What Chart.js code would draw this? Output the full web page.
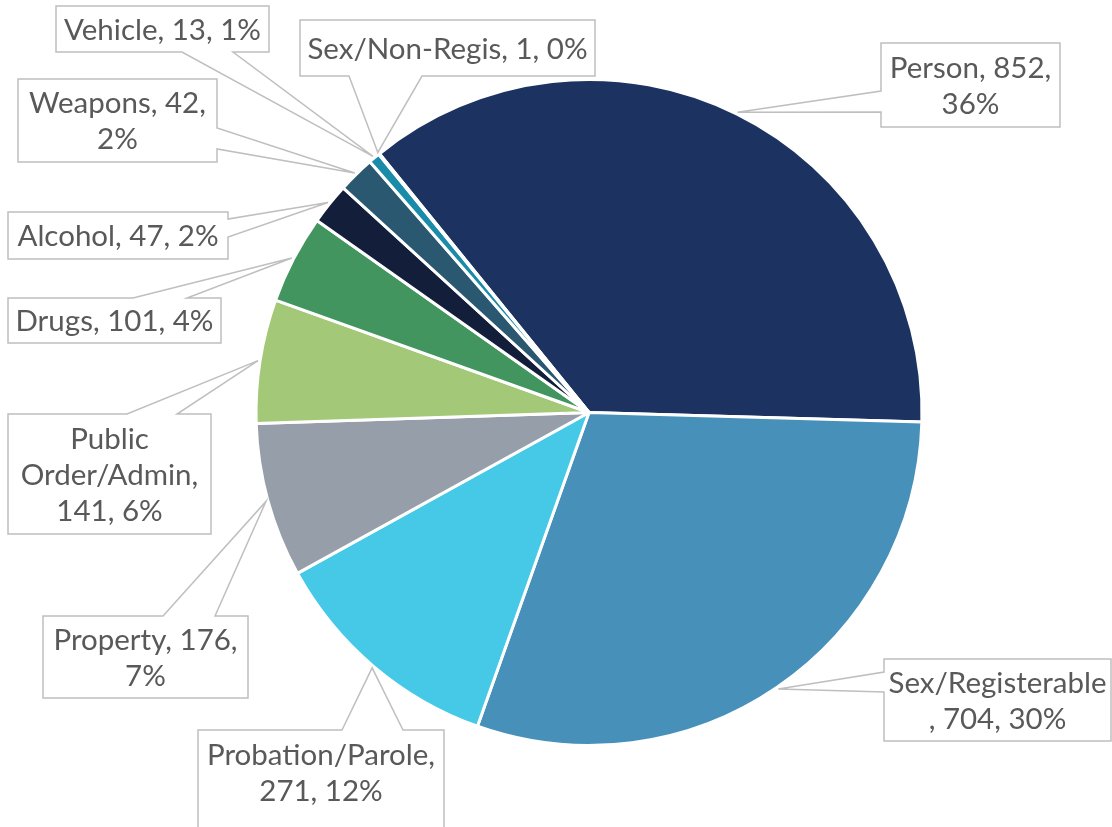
<!DOCTYPE html>
<html>
<head>
<meta charset="utf-8">
<script src="https://cdn.jsdelivr.net/npm/chart.js@4.4.1/dist/chart.umd.min.js"></script>
<style>
  html, body { margin: 0; padding: 0; background: #fff; }
  #wrap { width: 1112px; height: 827px; }
</style>
</head>
<body>
<div id="wrap"><canvas id="pieChart" width="1112" height="827"></canvas></div>
<script>
const categories = ['Person', 'Sex/Registerable', 'Probation/Parole', 'Property',
  'Public Order/Admin', 'Drugs', 'Alcohol', 'Weapons', 'Vehicle', 'Sex/Non-Regis'];
const counts = [852, 704, 271, 176, 141, 101, 47, 42, 13, 1];
const sliceColors = ['#1C3261', '#4690BA', '#45C9E6', '#969FA9', '#A3C878',
  '#42955F', '#131E3A', '#2A5870', '#1A8BA8', '#1A8BA8'];

// callout boxes: x, y, w, h, side of the wedge, wedge base (two coords along that side)
const callouts = [
  { x: 881, y: 43, w: 179, h: 84, side: 'left', a: 91, b: 112 },
  { x: 884, y: 659, w: 227, h: 82, side: 'left', a: 672, b: 692 },
  { x: 198, y: 730, w: 246, h: 110, side: 'top', a: 342, b: 403 },
  { x: 43, y: 616, w: 205, h: 82, side: 'top', a: 163, b: 215 },
  { x: 8, y: 414, w: 203, h: 120, side: 'top', a: 127, b: 177 },
  { x: 8, y: 298, w: 213, h: 45, side: 'top', a: 133, b: 187 },
  { x: 8, y: 212, w: 220, h: 47, side: 'right', a: 219, b: 237 },
  { x: 18, y: 79, w: 199, h: 83, side: 'right', a: 128, b: 149 },
  { x: 56, y: 6, w: 213, h: 46, side: 'bottom', a: 182, b: 233 },
  { x: 300, y: 20, w: 295, h: 56, side: 'bottom', a: 349, b: 422 }
];

const FONT = '29.5px Lato, "Open Sans", sans-serif';
const LINE_H = 36;

const total = counts.reduce((s, v) => s + v, 0);

function wrapText(ctx, text, maxW) {
  const words = text.split(' ');
  const lines = [];
  let cur = '';
  words.forEach(word => {
    const test = cur ? cur + ' ' + word : word;
    if (ctx.measureText(test).width <= maxW || !cur) {
      if (!cur && ctx.measureText(word).width > maxW && word.endsWith(',')) {
        lines.push(word.slice(0, -1));
        cur = ',';
      } else {
        cur = test;
      }
    } else {
      lines.push(cur);
      if (ctx.measureText(word).width > maxW && word.endsWith(',')) {
        lines.push(word.slice(0, -1));
        cur = ',';
      } else {
        cur = word;
      }
    }
  });
  if (cur) lines.push(cur);
  return lines;
}

const calloutPlugin = {
  id: 'callouts',
  afterDraw(chart) {
    const ctx = chart.ctx;
    const arcs = chart.getDatasetMeta(0).data;
    ctx.save();
    ctx.font = FONT;
    arcs.forEach((arc, i) => {
      const c = callouts[i];
      const mid = (arc.startAngle + arc.endAngle) / 2;
      const r = arc.outerRadius + 2;
      const tx = arc.x + Math.cos(mid) * r;
      const ty = arc.y + Math.sin(mid) * r;
      const { x, y, w, h, a, b } = c;

      ctx.beginPath();
      if (c.side === 'left') {
        ctx.moveTo(x, y); ctx.lineTo(x + w, y); ctx.lineTo(x + w, y + h);
        ctx.lineTo(x, y + h); ctx.lineTo(x, b); ctx.lineTo(tx, ty); ctx.lineTo(x, a);
      } else if (c.side === 'right') {
        ctx.moveTo(x, y); ctx.lineTo(x + w, y); ctx.lineTo(x + w, a);
        ctx.lineTo(tx, ty); ctx.lineTo(x + w, b); ctx.lineTo(x + w, y + h); ctx.lineTo(x, y + h);
      } else if (c.side === 'top') {
        ctx.moveTo(x, y); ctx.lineTo(a, y); ctx.lineTo(tx, ty); ctx.lineTo(b, y);
        ctx.lineTo(x + w, y); ctx.lineTo(x + w, y + h); ctx.lineTo(x, y + h);
      } else {
        ctx.moveTo(x, y); ctx.lineTo(x + w, y); ctx.lineTo(x + w, y + h);
        ctx.lineTo(b, y + h); ctx.lineTo(tx, ty); ctx.lineTo(a, y + h); ctx.lineTo(x, y + h);
      }
      ctx.closePath();
      ctx.fillStyle = '#fff';
      ctx.fill();
      ctx.strokeStyle = '#BFBFBF';
      ctx.lineWidth = 1.5;
      ctx.stroke();

      const pct = Math.round(counts[i] / total * 100);
      const text = categories[i] + ', ' + counts[i] + ', ' + pct + '%';
      const lines = wrapText(ctx, text, w - 8);
      ctx.fillStyle = '#595959';
      ctx.textAlign = 'center';
      ctx.textBaseline = 'middle';
      const visH = c.side === 'top' && y + h > 827 ? lines.length * LINE_H + 12 : h;
      const startY = y + visH / 2 - (lines.length - 1) * LINE_H / 2 + 1;
      lines.forEach((ln, k) => ctx.fillText(ln, x + w / 2, startY + k * LINE_H));
    });
    ctx.restore();
  }
};

new Chart(document.getElementById('pieChart'), {
  type: 'pie',
  data: {
    labels: categories,
    datasets: [{
      data: counts,
      backgroundColor: sliceColors,
      borderColor: '#ffffff',
      borderWidth: 3
    }]
  },
  options: {
    responsive: false,
    animation: false,
    rotation: -39,
    layout: { padding: { top: 78, bottom: 80, left: 254, right: 188 } },
    plugins: {
      legend: { display: false },
      tooltip: { enabled: false }
    }
  },
  plugins: [calloutPlugin]
});
</script>
</body>
</html>
